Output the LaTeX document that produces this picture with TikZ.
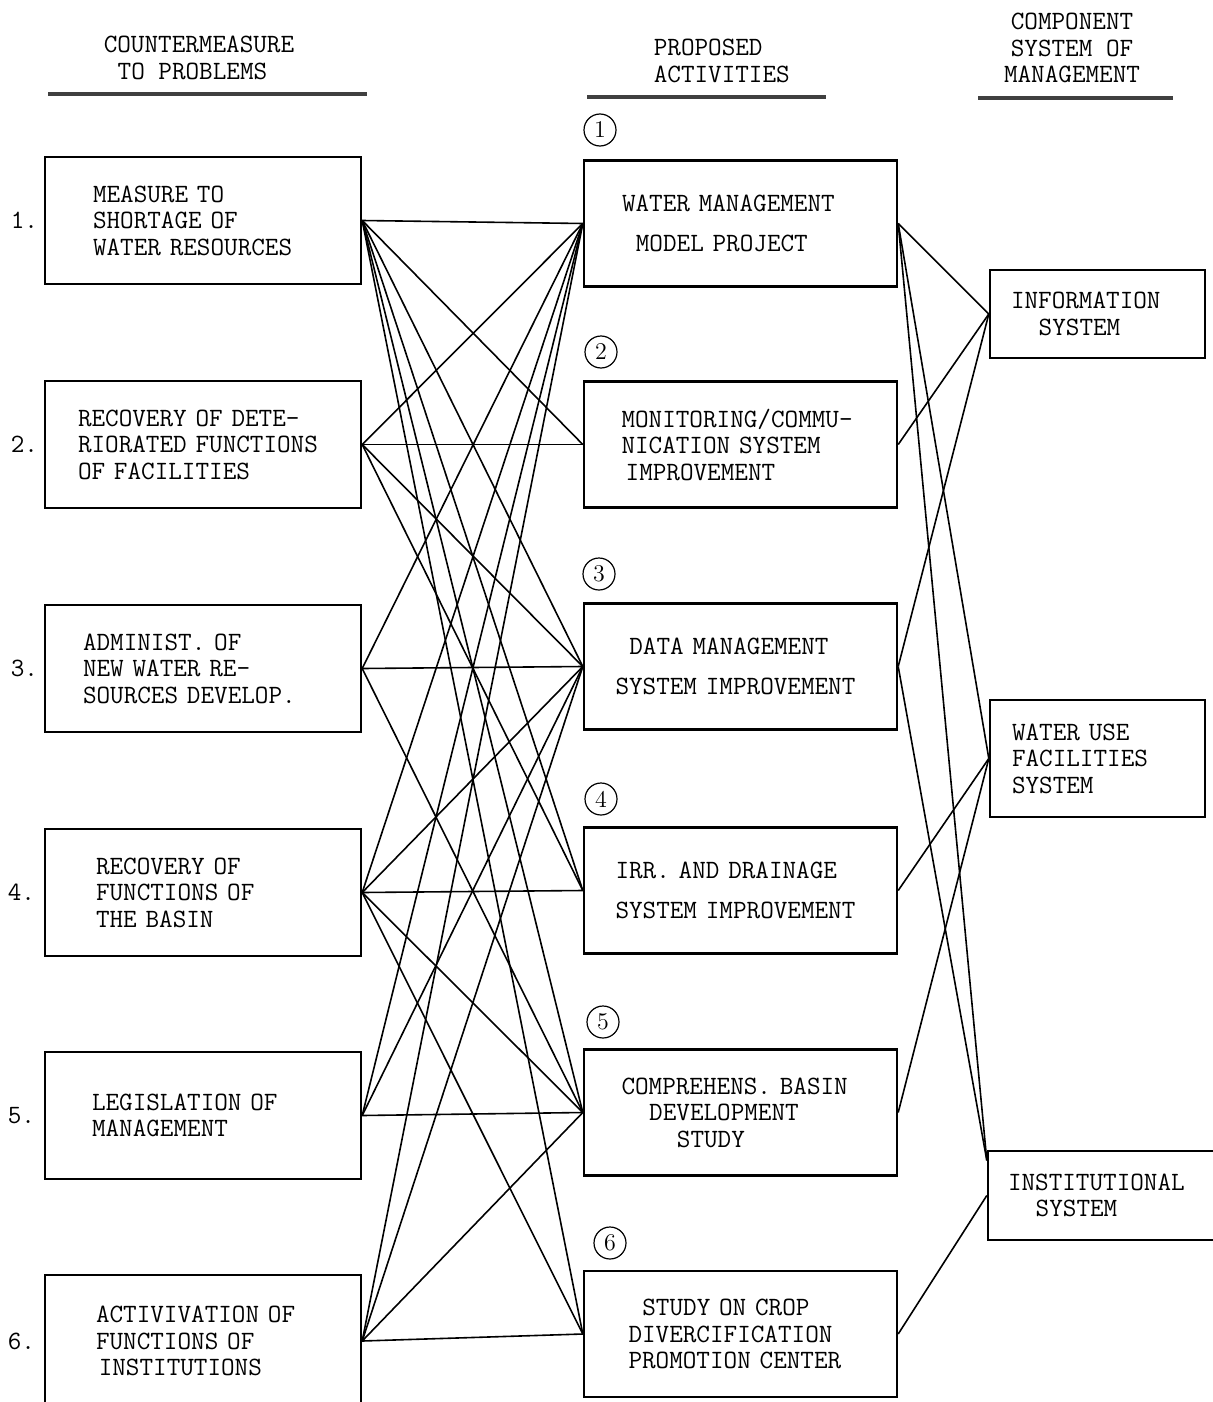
\documentclass[tikz,border=0pt]{standalone}
\usetikzlibrary{positioning}
\newcommand{\indsp}[1]{\hspace*{#1\dimexpr 6.93pt\relax}}
\begin{document}
\begin{tikzpicture}[x=0.5pt,y=-0.5pt,line width=0.8pt,
    every node/.style={font=\fontsize{13.2}{13.25}\selectfont\ttfamily},
    box/.style={draw,line width=1.2pt,align=left,inner sep=0pt},
    lbox/.style={box,minimum width=158pt,minimum height=63.5pt},
    mbox/.style={box,minimum width=156.5pt,minimum height=63pt},
    rbox/.style={box,minimum width=107.5pt},
    head/.style={inner sep=0pt},
    num/.style={inner sep=0pt},
    circ/.style={draw,circle,line width=0.6pt,inner sep=0pt,minimum size=16pt,
                 font=\fontsize{12}{12}\selectfont\rmfamily},
    rule/.style={line width=1.7pt,black!75}]
  \useasboundingbox (0,0) rectangle (1213,1402);

  % headings
  \node[head,anchor=west,align=left] (hd1) at (103,58) {COUNTERMEASURE\\\indsp{1}TO PROBLEMS};
  \node[head,anchor=west,align=left] (hd2) at (653,61) {PROPOSED\\ACTIVITIES};
  \node[head,align=center] (hd3) at (1072,48) {COMPONENT\\SYSTEM OF\\MANAGEMENT};
  \draw[rule] (48,94) -- (367,94);
  \draw[rule] (587,97) -- (826,97);
  \draw[rule] (978,98) -- (1173,98);

  % countermeasures
  \node[lbox,text width=110pt] (L1) at (203,220.5) {MEASURE TO\\SHORTAGE OF\\WATER RESOURCES};
  \node[lbox,text width=125pt] (L2) at (203,444.5) {RECOVERY OF DETE-\\RIORATED FUNCTIONS\\OF FACILITIES};
  \node[lbox,text width=120pt] (L3) at (203,668.5) {ADMINIST. OF\\NEW WATER RE-\\SOURCES DEVELOP.};
  \node[lbox,text width=107pt] (L4) at (203,892.5) {RECOVERY OF\\FUNCTIONS OF\\THE BASIN};
  \node[lbox,text width=111pt] (L5) at (203,1115.5) {LEGISLATION OF\\MANAGEMENT};
  \node[lbox,text width=107pt,minimum height=66pt] (L6) at (203,1341) {ACTIVIVATION OF\\FUNCTIONS OF\\\indsp{0.2}INSTITUTIONS};

  \node[num,left=2.5pt of L1] (n1) {1.};
  \node[num,left=2.5pt of L2] (n2) {2.};
  \node[num,left=2.5pt of L3] (n3) {3.};
  \node[num,left=4pt of L4] (n4) {4.};
  \node[num,left=4pt of L5] (n5) {5.};
  \node[num,left=4pt of L6] (n6) {6.};

  % proposed activities
  \node[mbox,text width=118.5pt] (A1) at (740.5,223.5) {WATER MANAGEMENT\\[6.5pt]\indsp{1}MODEL PROJECT};
  \node[mbox,text width=119pt] (A2) at (740.5,444.5) {MONITORING/COMMU-\\NICATION SYSTEM\\\indsp{0.3}IMPROVEMENT};
  \node[mbox,text width=125pt] (A3) at (740.5,666.5) {\indsp{1}DATA MANAGEMENT\\[6.5pt]SYSTEM IMPROVEMENT};
  \node[mbox,text width=125pt] (A4) at (740.5,890.5) {IRR. AND DRAINAGE\\[6.5pt]SYSTEM IMPROVEMENT};
  \node[mbox,text width=119pt] (A5) at (740.5,1112.5) {COMPREHENS. BASIN\\\indsp{2}DEVELOPMENT\\\indsp{4}STUDY};
  \node[mbox,text width=112pt] (A6) at (740.5,1334) {\indsp{1}STUDY ON CROP\\DIVERCIFICATION\\PROMOTION CENTER};

  \node[circ] (c1) at (600,130) {1};
  \node[circ] (c2) at (601,352) {2};
  \node[circ] (c3) at (599,574) {3};
  \node[circ] (c4) at (601,799) {4};
  \node[circ] (c5) at (603,1022) {5};
  \node[circ] (c6) at (610,1243) {6};

  % component systems
  \node[rbox,text width=86.5pt,minimum height=44pt] (Info) at (1097.5,314) {INFORMATION\\\indsp{2}SYSTEM};
  \node[rbox,text width=85.5pt,minimum height=58.5pt] (Use) at (1097.5,758.5) {WATER USE\\FACILITIES\\SYSTEM};
  \node[rbox,text width=93.5pt,minimum width=113.5pt,minimum height=44.5pt] (Inst) at (1101.5,1195.5) {INSTITUTIONAL\\\indsp{2}SYSTEM};

  % links countermeasure -> activity
  \path (L1.east) edge (A1.west) edge (A2.west) edge (A3.west)
                  edge (A4.west) edge (A5.west) edge (A6.west)
        (L2.east) edge (A1.west) edge (A2.west) edge (A3.west) edge (A4.west)
        (L3.east) edge (A1.west) edge (A3.west) edge (A5.west)
        (L4.east) edge (A1.west) edge (A3.west) edge (A4.west)
                  edge (A5.west) edge (A6.west)
        (L5.east) edge (A1.west) edge (A3.west) edge (A5.west)
        (L6.east) edge (A1.west) edge (A3.west) edge (A5.west) edge (A6.west);

  % links activity -> component system
  \path (A1.east) edge (Info.west) edge (Use.west) edge (Inst.163)
        (A2.east) edge (Info.west)
        (A3.east) edge (Info.west) edge (Inst.163)
        (A4.east) edge (Use.west)
        (A5.east) edge (Use.west)
        (A6.east) edge (Inst.west);
\end{tikzpicture}
\end{document}
